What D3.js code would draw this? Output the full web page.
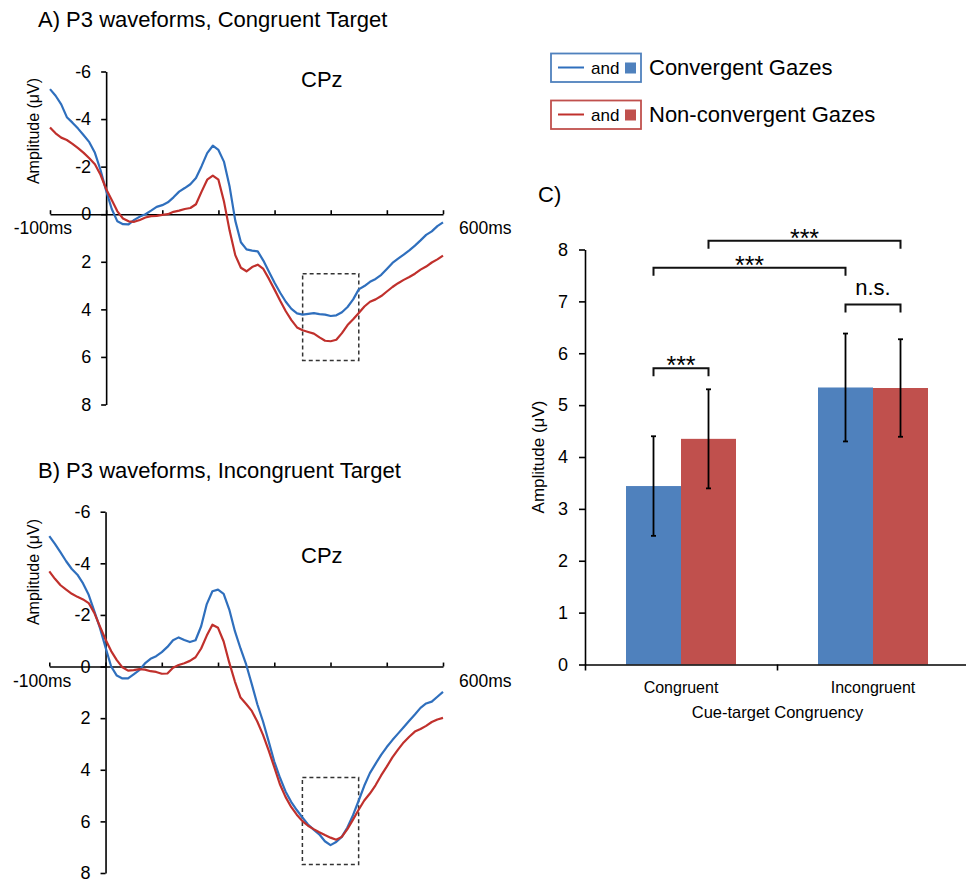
<!DOCTYPE html>
<html>
<head>
<meta charset="utf-8">
<script src="https://cdn.jsdelivr.net/npm/d3@7"></script>
<style>
  html, body { margin: 0; padding: 0; background: #fff; }
  svg { display: block; }
  text { font-family: "Liberation Sans", Arial, Helvetica, sans-serif; fill: #000; }
</style>
</head>
<body>
<svg id="fig" width="966" height="879"></svg>
<script>
// ---- ERP waveform data (CPz, µV; negative plotted upward) ----
const timesMs = [-100,-90,-80,-70,-60,-50,-40,-30,-20,-10,0,10,20,30,40,50,60,70,80,90,
  100,110,120,130,140,150,160,170,180,190,200,210,220,230,240,250,260,270,280,290,
  300,310,320,330,340,350,360,370,380,390,400,410,420,430,440,450,460,470,480,490,
  500,510,520,530,540,550,560,570,580,590,600];

const congruentConvergent = [-5.26,-4.98,-4.62,-4.08,-3.85,-3.6,-3.32,-3.03,-2.58,-1.86,
  -0.99,-0.22,0.3,0.42,0.43,0.24,0.1,0.0,-0.15,-0.31,
  -0.38,-0.5,-0.71,-0.95,-1.1,-1.26,-1.52,-2.02,-2.57,-2.88,
  -2.7,-2.2,-1.15,0.27,1.18,1.48,1.53,1.56,1.95,2.42,
  2.88,3.3,3.68,3.98,4.17,4.22,4.19,4.16,4.2,4.22,
  4.28,4.25,4.12,3.9,3.58,3.16,3.02,2.84,2.72,2.55,
  2.3,2.05,1.87,1.7,1.52,1.32,1.1,0.87,0.72,0.5,0.34];

const congruentNonConvergent = [-3.65,-3.4,-3.22,-3.12,-2.96,-2.78,-2.58,-2.35,-2.1,-1.66,
  -1.06,-0.6,-0.12,0.18,0.3,0.32,0.24,0.14,0.08,0.07,
  0.03,0.0,-0.1,-0.15,-0.22,-0.26,-0.42,-0.95,-1.45,-1.62,
  -1.45,-0.52,0.7,1.72,2.25,2.4,2.22,2.12,2.3,2.72,
  3.17,3.64,4.08,4.45,4.76,4.88,4.95,5.02,5.18,5.32,
  5.34,5.28,5.0,4.66,4.42,4.15,3.88,3.68,3.58,3.44,
  3.25,3.06,2.9,2.76,2.64,2.5,2.33,2.2,2.03,1.9,1.74];

const incongruentConvergent = [-5.05,-4.75,-4.42,-4.08,-3.78,-3.56,-3.22,-2.78,-2.15,-1.5,
  -0.74,0.0,0.35,0.46,0.46,0.3,0.14,-0.12,-0.3,-0.4,
  -0.56,-0.76,-1.02,-1.13,-1.03,-0.95,-1.02,-1.56,-2.42,-2.92,
  -2.98,-2.82,-2.21,-1.37,-0.7,-0.08,0.68,1.47,2.13,2.9,
  3.68,4.3,4.84,5.24,5.56,5.85,6.12,6.32,6.5,6.77,
  6.92,6.8,6.6,6.24,5.76,5.2,4.62,4.13,3.77,3.42,
  3.12,2.85,2.6,2.35,2.1,1.86,1.6,1.43,1.36,1.17,0.98];

const incongruentNonConvergent = [-3.69,-3.4,-3.15,-2.98,-2.82,-2.7,-2.6,-2.46,-2.08,-1.55,
  -1.05,-0.6,-0.25,0.03,0.16,0.14,0.1,0.12,0.18,0.21,
  0.28,0.27,0.05,-0.06,-0.13,-0.22,-0.36,-0.7,-1.2,-1.62,
  -1.5,-0.97,-0.15,0.58,1.2,1.45,1.72,2.14,2.65,3.25,
  3.9,4.56,5.05,5.44,5.74,5.99,6.17,6.3,6.42,6.53,
  6.63,6.71,6.6,6.3,5.93,5.55,5.19,4.92,4.6,4.22,
  3.88,3.52,3.22,2.94,2.72,2.52,2.42,2.3,2.15,2.05,1.99];

const timeTicks = [-100,0,100,200,300,400,500,600];
const ampTicks = [-6,-4,-2,0,2,4,6,8];
// P3 measurement windows: [start ms, end ms, top µV, bottom µV]
const windowCongruent = [350, 450, 2.5, 6.15];
const windowIncongruent = [350, 450, 4.3, 7.67];

// ---- Mean P3 amplitude data ----
const congruencyLevels = ["Congruent", "Incongruent"];
const gazeConditions = ["Convergent Gazes", "Non-convergent Gazes"];
const convergentMean = [3.44, 5.34];
const nonConvergentMean = [4.35, 5.33];
const convergentSE = [0.96, 1.04];
const nonConvergentSE = [0.955, 0.94];
const barTicks = [0,1,2,3,4,5,6,7,8];
// significance brackets: [level, condition] endpoints, bracket height in µV
const comparisons = [
  { from: [0, 0], to: [0, 1], level: 5.71, label: "***" },
  { from: [1, 0], to: [1, 1], level: 6.94, label: "n.s." },
  { from: [0, 0], to: [1, 0], level: 7.65, label: "***" },
  { from: [0, 1], to: [1, 1], level: 8.17, label: "***" }
];

const lineColors = ["#2f6fbd", "#c0302c"];
const barColors = ["#4f81bd", "#c0504d"];
const FONT = '"Liberation Sans", Arial, Helvetica, sans-serif';

const svg = d3.select("#fig");
svg.append("rect").attr("width", 966).attr("height", 879).attr("fill", "#fff");

function styleAxis(sel, fontSize) {
  sel.attr("font-family", FONT).attr("font-size", fontSize);
  sel.selectAll("path.domain").attr("stroke", "#000").attr("stroke-width", 1.6);
  sel.selectAll(".tick line").attr("stroke", "#000").attr("stroke-width", 1.6);
  sel.selectAll(".tick text").attr("fill", "#000");
}

function wavePanel(opt) {
  const x = d3.scaleLinear().domain([-100, 600]).range(opt.xRange);
  const y = d3.scaleLinear().domain([-6, 8]).range(opt.yRange);
  const g = svg.append("g");

  g.append("text").attr("x", 38).attr("y", opt.titleY)
    .attr("font-size", 22).text(opt.title);

  const xAxis = g.append("g").attr("transform", `translate(0,${y(0)})`)
    .call(d3.axisBottom(x).tickValues(timeTicks).tickSize(-4).tickSizeOuter(0).tickFormat(""));
  styleAxis(xAxis, 18);

  const yAxis = g.append("g").attr("transform", `translate(${x(0)},0)`)
    .call(d3.axisLeft(y).tickValues(ampTicks).tickSize(5).tickSizeOuter(0)
      .tickPadding(10).tickFormat(d => String(d)));
  styleAxis(yAxis, 18);

  g.append("text").attr("x", x(-100) + 22).attr("y", y(0) + 20)
    .attr("text-anchor", "end").attr("font-size", 17.5).text("-100ms");
  g.append("text").attr("x", x(600) + 16).attr("y", y(0) + 20)
    .attr("font-size", 17.5).text("600ms");

  g.append("text")
    .attr("transform", `translate(38.5,${opt.labelY}) rotate(-90)`)
    .attr("text-anchor", "middle").attr("font-size", 16).text("Amplitude (\u03bcV)");

  g.append("text").attr("x", 301).attr("y", opt.cpzY).attr("font-size", 22).text("CPz");

  const w = opt.window;
  g.append("rect")
    .attr("x", x(w[0])).attr("y", y(w[2]))
    .attr("width", x(w[1]) - x(w[0])).attr("height", y(w[3]) - y(w[2]))
    .attr("fill", "none").attr("stroke", "#333").attr("stroke-width", 1.5)
    .attr("stroke-dasharray", "4,3");

  const line = d3.line().x((d, i) => x(timesMs[i])).y(d => y(d));
  opt.series.forEach((s, k) => {
    g.append("path").datum(s).attr("d", line)
      .attr("fill", "none").attr("stroke", lineColors[k])
      .attr("stroke-width", 2.2).attr("stroke-linejoin", "round");
  });
}

wavePanel({
  title: "A) P3 waveforms, Congruent Target", titleY: 27,
  xRange: [50, 443], yRange: [71.5, 404.5],
  labelY: 131, cpzY: 87, window: windowCongruent,
  series: [congruentConvergent, congruentNonConvergent]
});

wavePanel({
  title: "B) P3 waveforms, Incongruent Target", titleY: 478,
  xRange: [49.3, 443], yRange: [511.7, 873],
  labelY: 572, cpzY: 563, window: windowIncongruent,
  series: [incongruentConvergent, incongruentNonConvergent]
});

// ---- Legend ----
const legend = svg.append("g");
gazeConditions.forEach((name, k) => {
  const top = k === 0 ? 53.5 : 100.5;
  const row = legend.append("g").attr("transform", `translate(0,${top})`);
  row.append("rect").attr("x", 551).attr("y", 0).attr("width", 90).attr("height", 28.5)
    .attr("fill", "#fff").attr("stroke", barColors[k]).attr("stroke-width", 1.8);
  row.append("line").attr("x1", 558).attr("x2", 584).attr("y1", 14).attr("y2", 14)
    .attr("stroke", lineColors[k]).attr("stroke-width", 2);
  row.append("text").attr("x", 591).attr("y", 20).attr("font-size", 17).text("and");
  row.append("rect").attr("x", 625).attr("y", 9).attr("width", 11).attr("height", 11)
    .attr("fill", barColors[k]);
  row.append("text").attr("x", 649).attr("y", 21).attr("font-size", 22).text(name);
});

// ---- Panel C: mean amplitude bars ----
const gc = svg.append("g");
gc.append("text").attr("x", 538).attr("y", 201.5).attr("font-size", 22).text("C)");

const yC = d3.scaleLinear().domain([0, 8]).range([664.5, 249.5]);
const x0 = d3.scaleBand().domain(congruencyLevels).range([585, 969]).paddingInner(0).paddingOuter(0);
const half = 55;
const x1 = d3.scaleBand().domain([0, 1])
  .range([x0.bandwidth() / 2 - half, x0.bandwidth() / 2 + half]);
const xEdges = d3.scaleLinear().domain([0, congruencyLevels.length]).range(x0.range());

const means = [convergentMean, nonConvergentMean];
const errs = [convergentSE, nonConvergentSE];

congruencyLevels.forEach((lvl, i) => {
  [0, 1].forEach(k => {
    gc.append("rect")
      .attr("x", x0(lvl) + x1(k)).attr("y", yC(means[k][i]))
      .attr("width", x1.bandwidth()).attr("height", yC(0) - yC(means[k][i]))
      .attr("fill", barColors[k]);
  });
});

const cx = (i, k) => x0(congruencyLevels[i]) + x1(k) + x1.bandwidth() / 2;

congruencyLevels.forEach((lvl, i) => {
  [0, 1].forEach(k => {
    const c = cx(i, k), hi = yC(means[k][i] + errs[k][i]), lo = yC(means[k][i] - errs[k][i]);
    gc.append("line").attr("x1", c).attr("x2", c).attr("y1", hi).attr("y2", lo)
      .attr("stroke", "#000").attr("stroke-width", 1.8);
    [hi, lo].forEach(yy => gc.append("line").attr("x1", c - 2.5).attr("x2", c + 2.5)
      .attr("y1", yy).attr("y2", yy).attr("stroke", "#000").attr("stroke-width", 1.8));
  });
});

const yAxC = gc.append("g").attr("transform", `translate(585,0)`)
  .call(d3.axisLeft(yC).tickValues(barTicks).tickSize(6).tickSizeOuter(0)
    .tickPadding(11).tickFormat(d => String(d)));
styleAxis(yAxC, 18);

const xAxC = gc.append("g").attr("transform", `translate(0,${yC(0)})`)
  .call(d3.axisBottom(xEdges).tickValues([0, 1, 2]).tickSize(6).tickSizeOuter(0).tickFormat(""));
styleAxis(xAxC, 16);

congruencyLevels.forEach(lvl => {
  gc.append("text").attr("x", x0(lvl) + x0.bandwidth() / 2).attr("y", 693)
    .attr("text-anchor", "middle").attr("font-size", 16).text(lvl);
});
gc.append("text").attr("x", 777.5).attr("y", 718).attr("text-anchor", "middle")
  .attr("font-size", 16.5).text("Cue-target Congruency");
gc.append("text").attr("transform", `translate(543.5,457) rotate(-90)`)
  .attr("text-anchor", "middle").attr("font-size", 17).text("Amplitude (\u03bcV)");

comparisons.forEach(c => {
  const xa = cx(c.from[0], c.from[1]), xb = cx(c.to[0], c.to[1]);
  const yt = yC(c.level);
  gc.append("path").attr("d", `M${xa},${yt + 8}V${yt}H${xb}V${yt + 8}`)
    .attr("fill", "none").attr("stroke", "#111").attr("stroke-width", 2);
  const t = gc.append("text").attr("x", (xa + xb) / 2).attr("text-anchor", "middle").text(c.label);
  if (c.label === "n.s.") t.attr("y", yt - 9).attr("font-size", 22);
  else t.attr("y", yt + 6).attr("font-size", 25);
});
</script>
</body>
</html>
